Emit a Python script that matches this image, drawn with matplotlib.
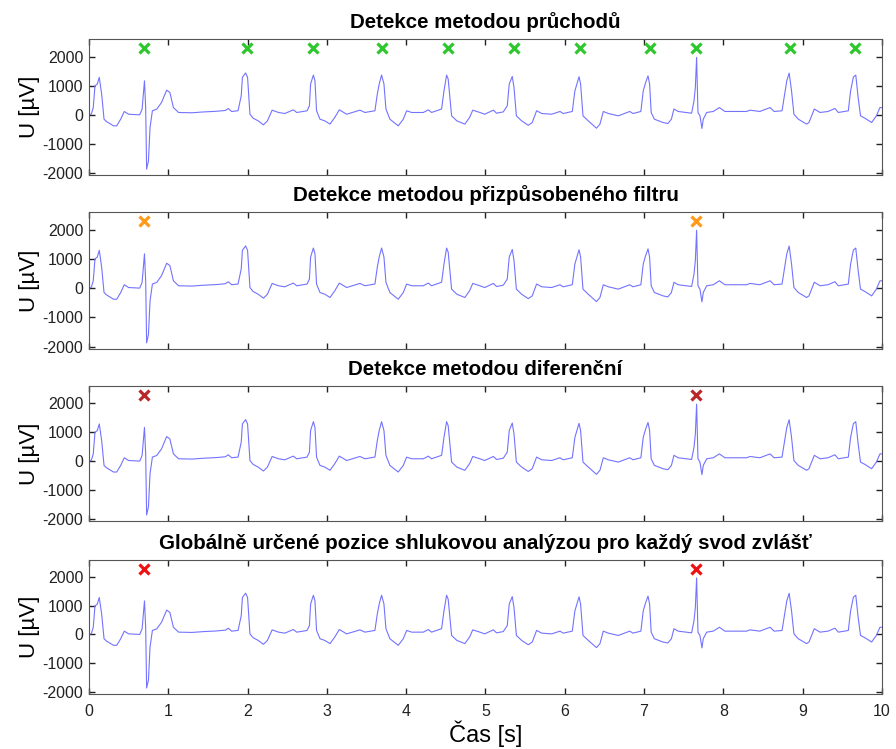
import matplotlib
matplotlib.use("Agg")
import matplotlib.pyplot as plt

plt.rcParams['font.family'] = ['Liberation Sans', 'DejaVu Sans']
plt.rcParams['axes.unicode_minus'] = False

# signal vertices (time [s], voltage [uV])
t = [0.00, 0.03, 0.054, 0.076, 0.105, 0.13, 0.16, 0.19, 0.22, 0.31, 0.35, 0.40, 0.445, 0.50, 0.64,
     0.67, 0.70, 0.715, 0.727, 0.75, 0.77, 0.80, 0.855, 0.915, 0.98, 1.02, 1.065, 1.13, 1.30, 1.45,
     1.60, 1.72, 1.757, 1.80, 1.88, 1.92, 1.935, 1.975, 2.0, 2.03, 2.07, 2.135, 2.2, 2.25, 2.31,
     2.39, 2.47, 2.577, 2.62, 2.75, 2.78, 2.795, 2.83, 2.85, 2.87, 2.913, 2.975, 3.04, 3.10, 3.157,
     3.25, 3.417, 3.48, 3.606, 3.636, 3.66, 3.69, 3.72, 3.745, 3.795, 3.90, 3.964, 4.006, 4.07, 4.216,
     4.28, 4.32, 4.447, 4.477, 4.51, 4.53, 4.573, 4.64, 4.74, 4.80, 4.84, 4.93, 4.99, 5.10, 5.14,
     5.225, 5.275, 5.30, 5.338, 5.36, 5.39, 5.457, 5.54, 5.59, 5.645, 5.71, 5.835, 5.94, 5.98, 6.095,
     6.128, 6.18, 6.20, 6.23, 6.297, 6.40, 6.444, 6.486, 6.55, 6.675, 6.82, 6.86, 6.96, 6.99, 7.02,
     7.05, 7.07, 7.09, 7.13, 7.24, 7.30, 7.345, 7.377, 7.43, 7.60, 7.63, 7.647, 7.663, 7.68, 7.705,
     7.73, 7.747, 7.79, 7.873, 7.95, 8.02, 8.294, 8.336, 8.46, 8.59, 8.64, 8.74, 8.77, 8.80, 8.83,
     8.86, 8.89, 8.945, 9.05, 9.08, 9.147, 9.22, 9.32, 9.407, 9.45, 9.576, 9.605, 9.64, 9.67, 9.70,
     9.73, 9.785, 9.87, 9.93, 9.975, 10.0]
u = [0, 30, 250, 1000, 1060, 1290, 710, -150, -230, -380, -380, -150, 115, 20, 0,
     195, 1170, 250, -1870, -1590, -440, 140, 195, 425, 850, 770, 250, 80, 70, 100,
     120, 150, 217, 115, 140, 655, 1290, 1440, 1290, 20, -115, -210, -345, -210, 160,
     80, 45, 172, 80, 138, 310, 1060, 1368, 1170, 140, -150, -210, -320, -90, 172,
     20, 160, 80, 140, 710, 1060, 1368, 1060, 200, -150, -380, -150, 138, 80, 80,
     172, 80, 200, 825, 1368, 1230, -35, -210, -320, -90, 160, 80, 20, 160, 56,
     100, 310, 1060, 1320, 940, -35, -210, -360, -265, 140, 45, 20, 115, 45, 115,
     825, 1310, 1060, -35, -210, -460, -320, 115, 45, -35, 115, 45, 115, 825, 1110,
     1340, 1060, 80, -150, -265, -300, -150, 200, 115, 56, 480, 940, 1975, 80, -35,
     -470, -150, 80, 115, 250, 115, 115, 160, 115, 250, 115, 138, 655, 1170, 1436,
     825, 20, -150, -320, -265, 200, 80, 115, 218, 80, 138, 825, 1300, 1368, 600,
     -35, -115, -265, -35, 250, 250]

titles = ["Detekce metodou průchodů",
          "Detekce metodou přizpůsobeného filtru",
          "Detekce metodou diferenční",
          "Globálně určené pozice shlukovou analýzou pro každý svod zvlášť"]

det_pruchody = [0.70, 1.99, 2.83, 3.70, 4.53, 5.36, 6.19, 7.07, 7.66, 8.84, 9.66]
det_filtr = [0.70, 7.66]
det_diference = [0.70, 7.66]
det_global = [0.70, 7.66]
detections = [det_pruchody, det_filtr, det_diference, det_global]
marker_level = 2300
marker_colors = ["#2ec82e", "#ff9a1a", "#b8282a", "#ee1111"]

fig = plt.figure(figsize=(8.96, 7.49), dpi=100)
boxes = [(0.0993, 0.766, 0.885, 0.1816),
         (0.0993, 0.534, 0.885, 0.183),
         (0.0993, 0.3044, 0.885, 0.180),
         (0.0993, 0.0734, 0.885, 0.179)]

for i in range(4):
    ax = fig.add_axes(boxes[i])
    ax.plot(t, u, color="#7373ff", lw=0.8)
    ax.plot(detections[i], [marker_level] * len(detections[i]), "x",
            color=marker_colors[i], ms=6.5, mew=2.3)
    ax.set_xlim(0, 10)
    ax.set_ylim(-2080, 2600)
    ax.set_xticks(range(0, 11))
    ax.set_yticks([-2000, -1000, 0, 1000, 2000])
    ax.tick_params(direction="in", top=True, right=True, length=4, width=1,
                   labelsize=11.5, colors="#222222", pad=4)
    ax.tick_params(axis="x", pad=7)
    for s in ax.spines.values():
        s.set_color("#555555")
    ax.set_title(titles[i], fontsize=14.8, fontweight="bold", pad=8)
    ax.set_ylabel("U [µV]", fontsize=16, labelpad=2)
    if i < 3:
        ax.set_xticklabels([])
    else:
        ax.set_xlabel("Čas [s]", fontsize=17, labelpad=1)

fig.savefig("out.png", dpi=100)
